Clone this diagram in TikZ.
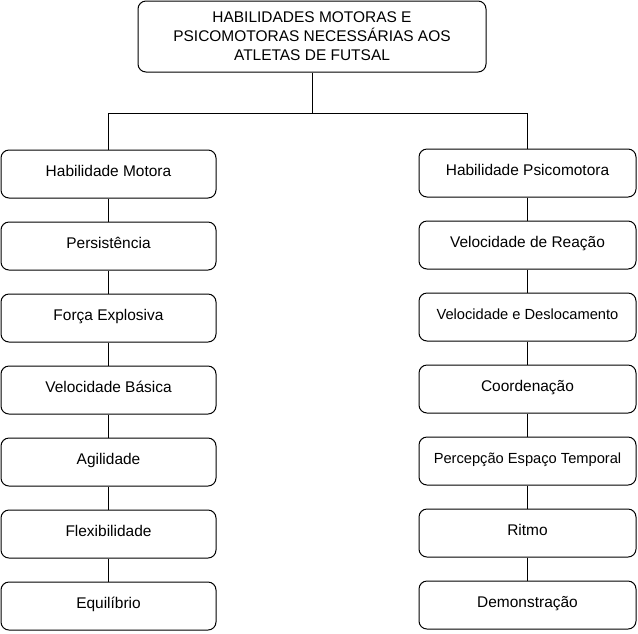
\documentclass[tikz,border=0pt]{standalone}
\usepackage{fontspec}
\setmainfont{Liberation Sans}
\usetikzlibrary{shapes,arrows}
\usetikzlibrary{calc}
\tikzstyle{block} = [draw, rounded corners=6pt, minimum width=161.25pt, minimum height=36pt, align=center, font=\fontsize{11.6}{14.25}\selectfont]
\tikzstyle{item} = [block, text height=8.3pt, text depth=4.5pt]
\tikzstyle{line} = [draw]

\begin{document}
\begin{tikzpicture}[x=0.75pt,y=0.75pt,line width=0.75pt]
 \useasboundingbox (0,0) rectangle (638,-633);
 \node [block, minimum width=261pt, minimum height=53.25pt](TT) at (312,-36.5) {HABILIDADES MOTORAS E\\PSICOMOTORAS NECESSÁRIAS AOS\\ATLETAS DE FUTSAL};
 % coluna esquerda
 \node [item](HM) at (108.5,-174) {Habilidade Motora};
 \node [item, below of=HM, node distance=54pt](PE) {Persistência};
 \node [item, below of=PE, node distance=54pt](FE) {Força Explosiva};
 \node [item, below of=FE, node distance=54pt](VB) {Velocidade Básica};
 \node [item, below of=VB, node distance=54pt](AG) {Agilidade};
 \node [item, below of=AG, node distance=54pt](FL) {Flexibilidade};
 \node [item, below of=FL, node distance=54pt](EQ) {Equilíbrio};
 % coluna direita
 \node [item, minimum width=162.75pt](HP) at (527.5,-173) {Habilidade Psicomotora};
 \node [item, minimum width=162.75pt, below of=HP, node distance=54pt](VR) {Velocidade de Reação};
 \node [item, minimum width=162.75pt, below of=VR, node distance=54pt, font=\fontsize{11}{13}\selectfont](VD) {Velocidade e Deslocamento};
 \node [item, minimum width=162.75pt, below of=VD, node distance=54pt](CO) {Coordenação};
 \node [item, minimum width=162.75pt, below of=CO, node distance=54pt, font=\fontsize{11}{13}\selectfont](PT) {Percepção Espaço Temporal};
 \node [item, minimum width=162.75pt, below of=PT, node distance=54pt](RI) {Ritmo};
 \node [item, minimum width=162.75pt, below of=RI, node distance=54pt](DE) {Demonstração};
 \coordinate (split) at ($ (TT.south) + (0,-41) $);
 \path [line] (TT.south) -- (split);
 \path [line] (HM.north) |- (split) -| (HP.north);
 \path [line] (HM) -- (PE);
 \path [line] (PE) -- (FE);
 \path [line] (FE) -- (VB);
 \path [line] (VB) -- (AG);
 \path [line] (AG) -- (FL);
 \path [line] (FL) -- (EQ);
 \path [line] (HP) -- (VR);
 \path [line] (VR) -- (VD);
 \path [line] (VD) -- (CO);
 \path [line] (CO) -- (PT);
 \path [line] (PT) -- (RI);
 \path [line] (RI) -- (DE);
\end{tikzpicture}
\end{document}
